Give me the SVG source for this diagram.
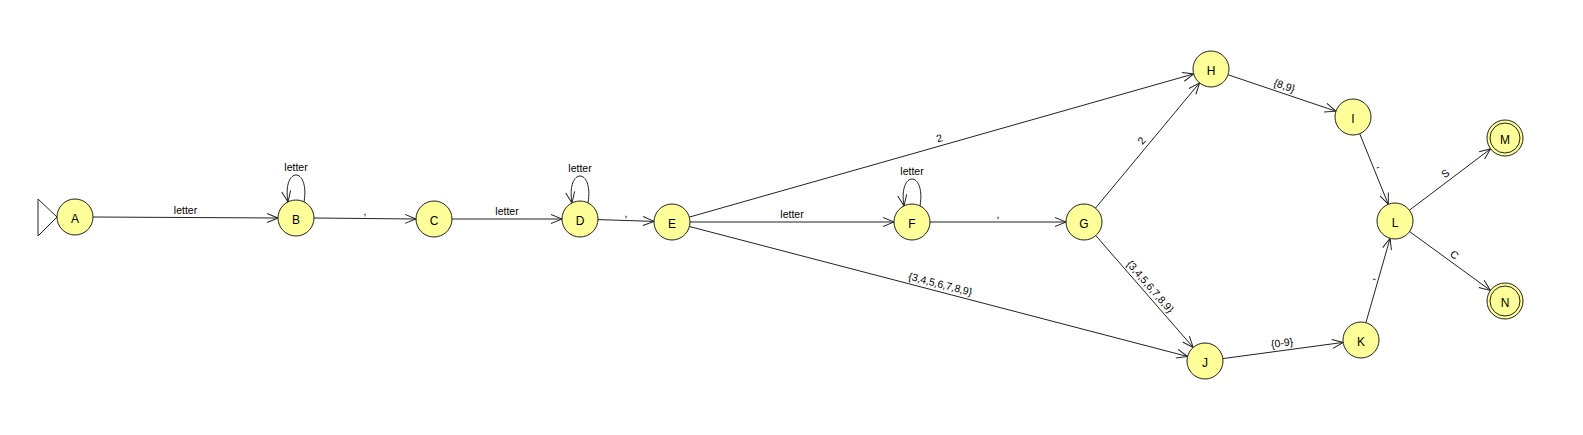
<svg xmlns="http://www.w3.org/2000/svg" width="1583" height="435" viewBox="0 0 1583 435">
<style>
.node circle{fill:#ffff99;stroke:#222;stroke-width:1}
.node text{font-family:"Liberation Sans",Arial,sans-serif;font-size:12px;text-anchor:middle;fill:#000}
.edges path,.edges line{fill:none;stroke:#222;stroke-width:1}
.lbl{font-family:"Liberation Sans",Arial,sans-serif;font-size:10.5px;text-anchor:middle;fill:#000}
</style>
<defs>
<marker id="arr" markerWidth="12" markerHeight="10" refX="11" refY="5" orient="auto" markerUnits="userSpaceOnUse" overflow="visible">
<path d="M0,0.5 L11,5 L0,9.5" fill="none" stroke="#222" stroke-width="1"/>
</marker>
</defs>
<rect width="1583" height="435" fill="#fff"/>
<g id="connectors" class="edges">
<polygon points="38,199 57,217 38,236" fill="#fff" stroke="#222"/>
<line x1="93" y1="217" x2="278" y2="218" marker-end="url(#arr)"/>
<line x1="314" y1="218" x2="416" y2="219" marker-end="url(#arr)"/>
<line x1="452" y1="219" x2="562" y2="219" marker-end="url(#arr)"/>
<line x1="598" y1="219.6" x2="654" y2="221.4" marker-end="url(#arr)"/>
<line x1="690" y1="222" x2="894" y2="222" marker-end="url(#arr)"/>
<line x1="930" y1="222" x2="1066" y2="222" marker-end="url(#arr)"/>
<line x1="689.3" y1="217.1" x2="1193.7" y2="73.9" marker-end="url(#arr)"/>
<line x1="1095.5" y1="208.1" x2="1199.5" y2="82.9" marker-end="url(#arr)"/>
<line x1="689.4" y1="226.5" x2="1187.6" y2="356.5" marker-end="url(#arr)"/>
<line x1="1095.8" y1="235.6" x2="1193.2" y2="347.4" marker-end="url(#arr)"/>
<line x1="1228.1" y1="74.8" x2="1335.9" y2="111.2" marker-end="url(#arr)"/>
<line x1="1359.7" y1="133.7" x2="1388.3" y2="204.3" marker-end="url(#arr)"/>
<line x1="1222.8" y1="358.6" x2="1343.2" y2="342.4" marker-end="url(#arr)"/>
<line x1="1365.9" y1="322.7" x2="1390.1" y2="238.3" marker-end="url(#arr)"/>
<line x1="1409.4" y1="210.2" x2="1490.6" y2="148.8" marker-end="url(#arr)"/>
<line x1="1409.6" y1="231.6" x2="1490.4" y2="290.4" marker-end="url(#arr)"/>
<path d="M304,202 C310,166 282,166 288,202" marker-end="url(#arr)"/>
<path d="M588,203 C594,167 566,167 572,203" marker-end="url(#arr)"/>
<path d="M920,206 C926,170 898,170 904,206" marker-end="url(#arr)"/>
<text class="lbl" x="185.5" y="213.5">letter</text>
<text class="lbl" x="365" y="214.5">,</text>
<text class="lbl" x="507" y="215">letter</text>
<text class="lbl" x="626" y="216.5">,</text>
<text class="lbl" x="792" y="218">letter</text>
<text class="lbl" x="998" y="218">,</text>
<text class="lbl" x="296" y="171">letter</text>
<text class="lbl" x="580" y="172">letter</text>
<text class="lbl" x="912" y="175">letter</text>
<text class="lbl" transform="translate(941.5,145.5) rotate(-15.85)" y="-4">2</text>
<text class="lbl" transform="translate(1147.5,145.5) rotate(-50.3)" y="-4">2</text>
<text class="lbl" transform="translate(938.5,291.5) rotate(14.62)" y="-4">{3,4,5,6,7,8,9}</text>
<text class="lbl" transform="translate(1144.5,291.5) rotate(48.96)" y="-4">{3,4,5,6,7,8,9}</text>
<text class="lbl" transform="translate(1282,93) rotate(18.68)" y="-4">{8,9}</text>
<text class="lbl" transform="translate(1374,169) rotate(68)" y="-4">,</text>
<text class="lbl" transform="translate(1283,350.5) rotate(-7.67)" y="-4">{0-9}</text>
<text class="lbl" transform="translate(1378,280.5) rotate(-74.05)" y="-4">,</text>
<text class="lbl" transform="translate(1450,179.5) rotate(-37.04)" y="-4">S</text>
<text class="lbl" transform="translate(1450,261) rotate(36.03)" y="-4">C</text>
</g>
<g id="node-A" class="node"><circle cx="75" cy="217" r="18"/><text x="75" y="223">A</text></g>
<g id="node-B" class="node"><circle cx="296" cy="218" r="18"/><text x="296" y="224">B</text></g>
<g id="node-C" class="node"><circle cx="434" cy="219" r="18"/><text x="434" y="225">C</text></g>
<g id="node-D" class="node"><circle cx="580" cy="219" r="18"/><text x="580" y="225">D</text></g>
<g id="node-E" class="node"><circle cx="672" cy="222" r="18"/><text x="672" y="228">E</text></g>
<g id="node-F" class="node"><circle cx="912" cy="222" r="18"/><text x="912" y="228">F</text></g>
<g id="node-G" class="node"><circle cx="1084" cy="222" r="18"/><text x="1084" y="228">G</text></g>
<g id="node-H" class="node"><circle cx="1211" cy="69" r="18"/><text x="1211" y="75">H</text></g>
<g id="node-I" class="node"><circle cx="1353" cy="117" r="18"/><text x="1353" y="123">I</text></g>
<g id="node-J" class="node"><circle cx="1205" cy="361" r="18"/><text x="1205" y="367">J</text></g>
<g id="node-K" class="node"><circle cx="1361" cy="340" r="18"/><text x="1361" y="346">K</text></g>
<g id="node-L" class="node"><circle cx="1395" cy="221" r="18"/><text x="1395" y="227">L</text></g>
<g id="node-M" class="node"><circle cx="1505" cy="138" r="18"/><circle cx="1505" cy="138" r="15"/><text x="1505" y="144">M</text></g>
<g id="node-N" class="node"><circle cx="1505" cy="301" r="18"/><circle cx="1505" cy="301" r="15"/><text x="1505" y="307">N</text></g>
</svg>
